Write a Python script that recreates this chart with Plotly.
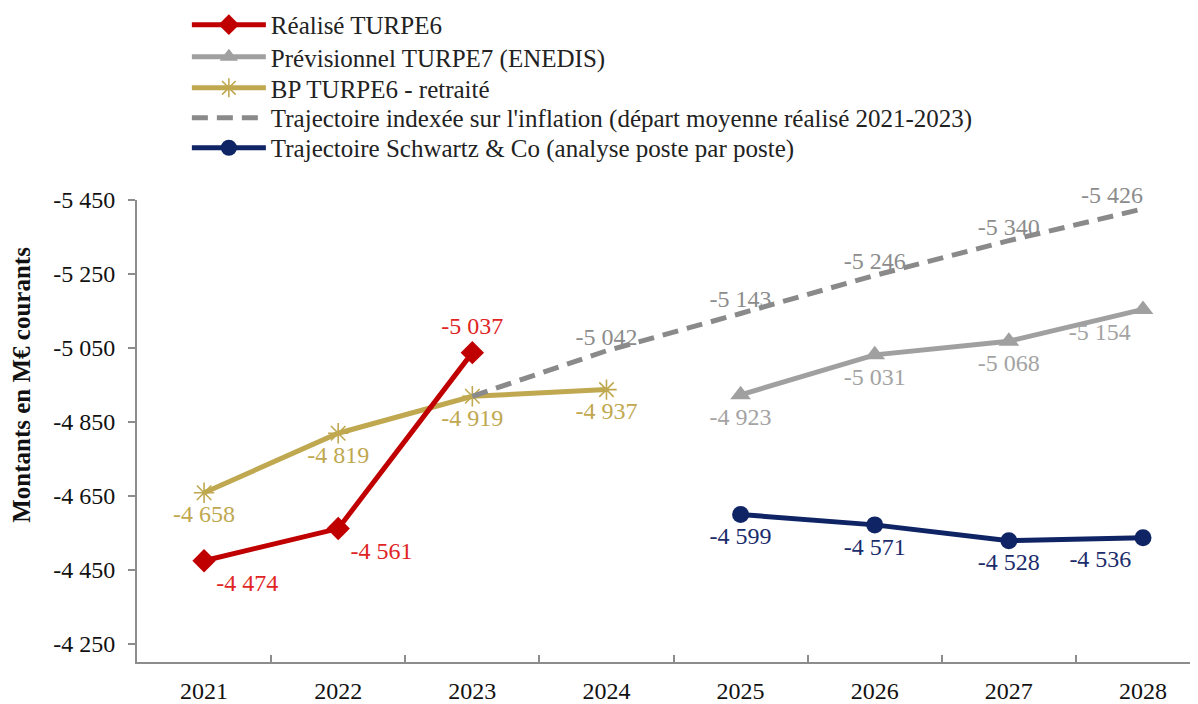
import plotly.graph_objects as go

years = ["2021", "2022", "2023", "2024", "2025", "2026", "2027", "2028"]

realise_x = ["2021", "2022", "2023"]
realise_y = [-4474, -4561, -5037]

prev_x = ["2025", "2026", "2027", "2028"]
prev_y = [-4923, -5031, -5068, -5154]

bp_x = ["2021", "2022", "2023", "2024"]
bp_y = [-4658, -4819, -4919, -4937]

infl_x = ["2023", "2024", "2025", "2026", "2027", "2028"]
infl_y = [-4919, -5042, -5143, -5246, -5340, -5426]

sch_x = ["2025", "2026", "2027", "2028"]
sch_y = [-4599, -4571, -4528, -4536]

y_ticks = [-5450, -5250, -5050, -4850, -4650, -4450, -4250]

FONT = "Liberation Serif"
FS = 24


def fmt(v):
    s = f"{abs(v):,}".replace(",", " ")
    return ("-" if v < 0 else "") + s


fig = go.Figure()

fig.add_trace(go.Scatter(
    x=bp_x, y=bp_y, name="BP TURPE6 - retraité", legend="legend3",
    mode="lines+markers+text",
    line=dict(color="#BFA84F", width=5),
    marker=dict(symbol="asterisk-open", size=17, color="#BFA84F", line=dict(color="#BFA84F", width=1.6)),
    text=[fmt(v) for v in bp_y],
    textposition=["bottom center"] * 4,
    textfont=dict(color="#BFA84F", size=FS, family=FONT),
    cliponaxis=False,
))

fig.add_trace(go.Scatter(
    x=infl_x, y=infl_y, name="Trajectoire indexée sur l'inflation (départ moyenne réalisé 2021-2023)",
    legend="legend4",
    mode="lines+text",
    line=dict(color="#8A8A8A", width=5, dash="16px,9px"),
    text=[""] + [fmt(v) for v in infl_y[1:]],
    textposition=["top center"] * 5 + ["top left"],
    textfont=dict(color="#8C8C8C", size=FS, family=FONT),
    cliponaxis=False,
))

fig.add_trace(go.Scatter(
    x=prev_x, y=prev_y, name="Prévisionnel TURPE7 (ENEDIS)", legend="legend2",
    mode="lines+markers+text",
    line=dict(color="#A0A0A0", width=5),
    marker=dict(symbol="triangle-up", size=18, color="#A0A0A0"),
    text=[fmt(v) for v in prev_y],
    textposition=["bottom center"] * 3 + ["bottom left"],
    textfont=dict(color="#A3A3A3", size=FS, family=FONT),
    cliponaxis=False,
))

fig.add_trace(go.Scatter(
    x=sch_x, y=sch_y, name="Trajectoire Schwartz & Co (analyse poste par poste)", legend="legend5",
    mode="lines+markers+text",
    line=dict(color="#0E2465", width=5),
    marker=dict(symbol="circle", size=17, color="#0E2465"),
    text=[fmt(v) for v in sch_y],
    textposition=["bottom center"] * 3 + ["bottom left"],
    textfont=dict(color="#1B2C6B", size=FS, family=FONT),
    cliponaxis=False,
))

fig.add_trace(go.Scatter(
    x=realise_x, y=realise_y, name="Réalisé TURPE6", legend="legend",
    mode="lines+markers+text",
    line=dict(color="#C00000", width=5),
    marker=dict(symbol="diamond", size=18, color="#C00000"),
    text=[fmt(v) for v in realise_y],
    textposition=["bottom right", "bottom right", "top center"],
    textfont=dict(color="#E02424", size=FS, family=FONT),
    cliponaxis=False,
))

fig.add_annotation(
    text="<b>Montants en M€ courants</b>", textangle=-90,
    xref="paper", yref="paper", x=-0.1084, y=0.60,
    xanchor="center", yanchor="middle", showarrow=False,
    font=dict(size=25, family=FONT, color="#111111"),
)

legend_rows = [1.379, 1.3095, 1.2424, 1.1775, 1.1126]
legend_common = dict(
    x=0.047, xanchor="left", yanchor="middle",
    font=dict(size=25, family=FONT, color="#222222"),
    itemwidth=74, bgcolor="rgba(0,0,0,0)",
)

layout_legends = {}
for i, yy in enumerate(legend_rows):
    key = "legend" if i == 0 else f"legend{i + 1}"
    layout_legends[key] = dict(y=yy, **legend_common)

fig.update_layout(
    width=1198, height=704,
    margin=dict(l=129, r=8, t=192, b=50, autoexpand=False),
    paper_bgcolor="white", plot_bgcolor="white",
    font=dict(family=FONT, size=FS, color="#222222"),
    showlegend=True,
    xaxis=dict(
        type="category", categoryorder="array", categoryarray=years,
        tickmode="array", tickvals=years, ticktext=years,
        range=[-0.5, 7.41], tickson="boundaries",
        ticks="inside", ticklen=7, tickcolor="#8C8C8C", tickwidth=2,
        showline=True, linecolor="#8C8C8C", linewidth=2,
        showgrid=False, zeroline=False, automargin=False,
        ticklabelstandoff=6,
        tickfont=dict(size=FS, family=FONT, color="#111111"),
    ),
    yaxis=dict(
        range=[-4200, -5450],
        tickmode="array", tickvals=y_ticks, ticktext=[fmt(v) for v in y_ticks],
        ticks="outside", ticklen=7, tickcolor="#8C8C8C", tickwidth=2,
        showline=True, linecolor="#8C8C8C", linewidth=2,
        showgrid=False, zeroline=False, automargin=False,
        ticklabelstandoff=8,
        tickfont=dict(size=FS, family=FONT, color="#111111"),
    ),
    **layout_legends,
)

fig.write_html("out.html")
